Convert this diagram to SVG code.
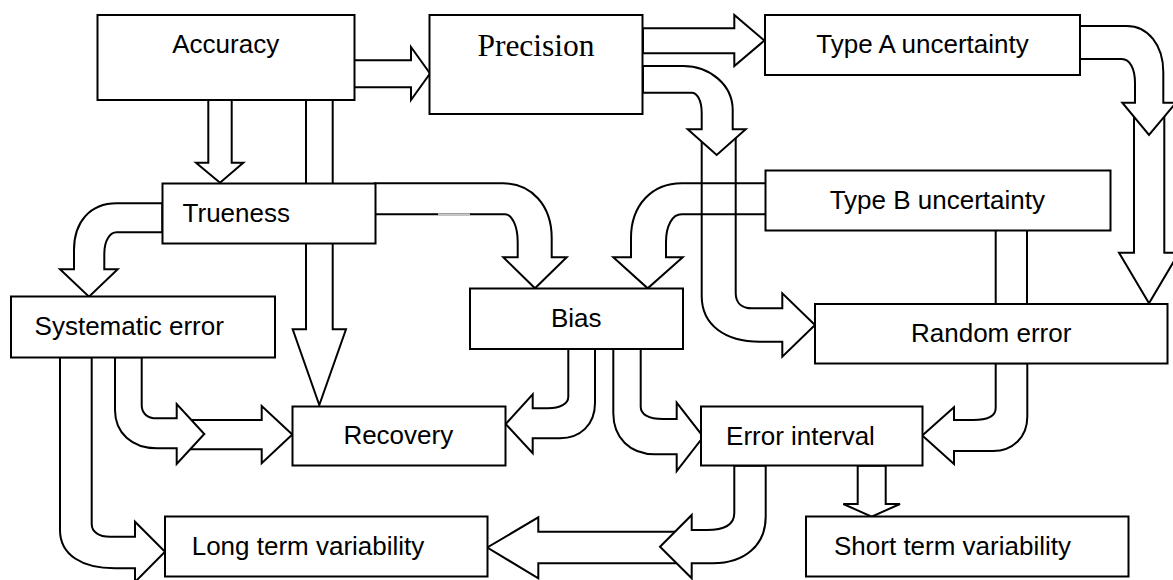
<svg xmlns="http://www.w3.org/2000/svg" width="1173" height="580" viewBox="0 0 1173 580">
  <style>
    .arr { fill: #fff; stroke: #000; stroke-width: 2; stroke-linejoin: miter; }
    .arr-open { fill: none; stroke: #000; stroke-width: 2; stroke-linejoin: miter; }
    .box { fill: #fff; stroke: #000; stroke-width: 2; }
    .lbl { font-family: "Liberation Sans", Arial, sans-serif; font-size: 26px; fill: #000; text-anchor: middle; }
    .lbl-serif { font-family: "Liberation Serif", "Times New Roman", serif; font-size: 31.5px; fill: #000; text-anchor: middle; }
  </style>

  <!-- block arrows (drawn first so boxes sit on top) -->
  <g id="connectors">
    <!-- Accuracy -> Precision -->
    <path class="arr" d="M354,60.3 H411 V47 L430,73.5 L411,100 V87.3 H354 Z"/>
    <!-- Accuracy -> Trueness -->
    <path class="arr" d="M208.3,100 V162.7 H196 L220,182.7 L243.3,162.7 H231.7 V100 Z"/>
    <!-- Accuracy -> Recovery (passes behind Trueness) -->
    <path class="arr" d="M306,100 V329.3 H292.7 L319.3,405 L346,329.3 H332.7 V100 Z"/>
    <!-- Precision -> Type A uncertainty -->
    <path class="arr" d="M643,28.3 H734.3 V15 L764.3,40.6 L734.3,66 V53.3 H643 Z"/>
    <!-- Precision -> Random error, lower leg -->
    <path class="arr" d="M701.7,133 V296 C701.7,325 725,341.7 760,341.7 H782.3 V356.7 L815,325 L782.3,293.3 V308.3 H752 C742,308.3 735.7,303 735.7,293 V133 Z"/>
    <!-- Type B uncertainty -> Bias -->
    <path class="arr-open" d="M765.7,183.3 H681.7 C652,183.3 631,205 631,238 V257.3 H613.3 L647.7,288.3 L682.7,257.3 H666 V242 C666,226 672,214.3 681.7,214.3 H765.7"/>
    <!-- Precision -> Random error, upper bend -->
    <path class="arr" d="M643,66 H683 C710,66 732.7,85 732.7,110 V129.3 H745.7 L716.7,155 L687.7,129.3 H701.7 V113 C701.7,100 697,92.7 691.7,92.7 H643 Z"/>
    <!-- Type A uncertainty -> Random error, lower leg -->
    <path class="arr" d="M1134,112 V252.7 H1119 L1149,303.3 L1179,252.7 H1164.3 V112 Z"/>
    <!-- Type A uncertainty -> Random error, upper bend -->
    <path class="arr" d="M1080,26 H1126.7 C1148,26 1163.3,45 1163.3,72 V102.7 H1176 L1149,135 L1122.3,102.7 H1135 V83 C1135,69 1130,59 1121.7,59 H1080 Z"/>
    <!-- Type B uncertainty - Random error link -->
    <rect class="arr" x="995.7" y="230" width="31.3" height="74"/>
    <!-- Trueness -> Bias -->
    <path class="arr" d="M375,183.3 H503 C531,183.3 551.7,205 551.7,238 V257.3 H566.7 L535,288.3 L503.3,257.3 H517.7 V242 C517.7,226 512,214.3 505,214.3 H375 Z"/>
    <line x1="438" y1="214.3" x2="470" y2="214.3" stroke="#c8c8c8" stroke-width="2"/>
    <!-- Trueness -> Systematic error -->
    <path class="arr" d="M162.3,203.3 H116.7 C90,203.3 74,222 74,250 V269.3 H60 L89,296.7 L117.7,269.3 H104.3 V254 C104.3,240 110,232.3 116.7,232.3 H162.3 Z"/>
    <!-- Systematic error -> Recovery, straight part -->
    <path class="arr" d="M185,420 H261.7 V406 L292.3,434.6 L261.7,463.3 V449.3 H185 Z"/>
    <!-- Systematic error -> Recovery, bend -->
    <path class="arr" d="M115,357.3 V410 C115,433 132,448.3 156.7,448.3 H176.7 V464 L204.3,434 L176.7,404 V418.3 H156.7 C147,418.3 141.7,413 141.7,405 V357.3 Z"/>
    <!-- Systematic error -> Long term variability -->
    <path class="arr" d="M60,357.3 V530 C60,555 82,568.3 115,568.3 H135 V582 L165,551.7 L135,521.7 V536.7 H110 C99,536.7 91.7,532 91.7,524 V357.3 Z"/>
    <!-- Bias -> Recovery -->
    <path class="arr" d="M568.3,349 V396.7 C568.3,404 560,408.3 548,408.3 H532.7 V394.3 L505.7,424 L532.7,453.3 V438.3 H560 C580,438.3 595,425 595,403 V349 Z"/>
    <!-- Bias -> Error interval -->
    <path class="arr" d="M640.7,349 V406.7 C640.7,414 648,419 663,419 H676.7 V402.7 L703.3,436.8 L676.7,471 V454.3 H655 C630,454.3 613.3,438 613.3,413 V349 Z"/>
    <!-- Random error -> Error interval -->
    <path class="arr" d="M995.7,363.3 V408 C995.7,416 988,420 973,420 H954 V407.3 L922.3,435.6 L954,464 V451 H993 C1013,451 1027.3,437 1027.3,416.7 V363.3 Z"/>
    <!-- Error interval -> Short term variability -->
    <path class="arr" d="M857.7,465.7 V504 H843.3 L871.7,516.7 L900,504 H885.7 V465.7 Z"/>
    <!-- Error interval -> Long term variability, straight part -->
    <path class="arr" d="M680,531.7 H538.3 V517.3 L487.3,547.5 L538.3,578.3 V563.3 H680 Z"/>
    <!-- Error interval -> Long term variability, bend -->
    <path class="arr" d="M734.3,465.7 V513 C734.3,524 725,530 706.7,530 H691.7 V515 L660,546.7 L691.7,578.3 V563.3 H713 C745,563.3 765.7,545 765.7,516.7 V465.7 Z"/>
  </g>

  <!-- boxes -->
  <g id="accuracy">
    <rect class="box" x="97.5" y="15" width="257" height="85"/>
    <text class="lbl" x="225.7" y="53.3">Accuracy</text>
  </g>
  <g id="precision">
    <rect class="box" x="429.5" y="15" width="213" height="99"/>
    <text class="lbl-serif" x="536" y="56">Precision</text>
  </g>
  <g id="type-a">
    <rect class="box" x="765" y="15" width="315" height="60"/>
    <text class="lbl" x="922.5" y="53.3">Type A uncertainty</text>
  </g>
  <g id="trueness">
    <rect class="box" x="162.5" y="183.5" width="213" height="60"/>
    <text class="lbl" x="236.3" y="221.7">Trueness</text>
  </g>
  <g id="type-b">
    <rect class="box" x="765.5" y="170.5" width="345" height="60"/>
    <text class="lbl" x="937.3" y="209">Type B uncertainty</text>
  </g>
  <g id="systematic-error">
    <rect class="box" x="11" y="296.5" width="264" height="61"/>
    <text class="lbl" x="129.2" y="335">Systematic error</text>
  </g>
  <g id="bias">
    <rect class="box" x="470" y="288.5" width="213" height="60.5"/>
    <text class="lbl" x="576.3" y="326.7">Bias</text>
  </g>
  <g id="random-error">
    <rect class="box" x="815" y="304" width="352.5" height="59.5"/>
    <text class="lbl" x="991.2" y="341.7">Random error</text>
  </g>
  <g id="recovery">
    <rect class="box" x="292.5" y="406.5" width="213" height="59"/>
    <text class="lbl" x="398.3" y="444.3">Recovery</text>
  </g>
  <g id="error-interval">
    <rect class="box" x="701" y="406.5" width="221.5" height="59"/>
    <text class="lbl" x="800.5" y="445">Error interval</text>
  </g>
  <g id="long-term">
    <rect class="box" x="165" y="516.5" width="322.5" height="60"/>
    <text class="lbl" x="308" y="555">Long term variability</text>
  </g>
  <g id="short-term">
    <rect class="box" x="806" y="516.5" width="322.5" height="60"/>
    <text class="lbl" x="952.5" y="555">Short term variability</text>
  </g>
</svg>
